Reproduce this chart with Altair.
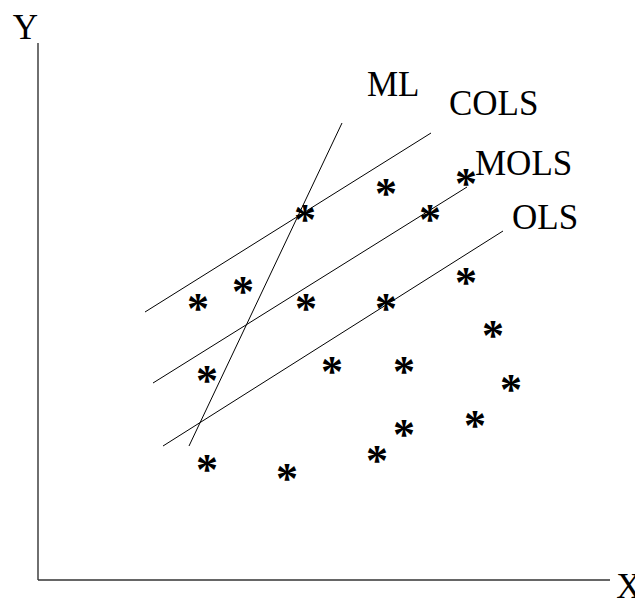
import altair as alt
import pandas as pd

# scatter points (asterisks), in diagram units (origin at the axes corner)
pt_x = [160, 205, 268, 348, 428, 455, 169, 294, 366, 473, 169, 249, 339, 366, 437, 348, 267, 392, 428]
pt_y = [278, 295, 278, 278, 304, 251, 206, 215, 215, 197, 117, 108, 126, 152, 161, 393, 367, 367, 403]

# fitted frontier lines: start / end points
line_names = ["ML", "COLS", "MOLS", "OLS"]
line_x1 = [151, 107, 115, 125]
line_y1 = [134, 268, 197, 134]
line_x2 = [304, 393, 429, 465]
line_y2 = [457, 447, 393, 349]

# label positions for the lines
label_x = [329, 411, 437, 474]
label_y = [484, 465, 405, 351]

# axes extents
axis_x_end = 572
axis_y_end = 537

FONT = "Liberation Serif"
FS = 35

X_DOM = [-30, 597]
Y_DOM = [-18, 572]
xs = alt.Scale(domain=X_DOM, nice=False, zero=False)
ys = alt.Scale(domain=Y_DOM, nice=False, zero=False)

pts = pd.DataFrame({"x": pt_x, "y": pt_y, "t": ["*"] * len(pt_x)})
lines = pd.DataFrame({"name": line_names, "x": line_x1, "y": line_y1, "x2": line_x2, "y2": line_y2})
labels = pd.DataFrame({"name": line_names, "x": label_x, "y": label_y})
axes = pd.DataFrame({"x": [0, 0], "y": [0, 0], "x2": [0, axis_x_end], "y2": [axis_y_end, 0]})
axis_labels = pd.DataFrame({"t": ["Y", "X"], "x": [-12.5, 591], "y": [541, -18]})

X = lambda: alt.X("x:Q", scale=xs, axis=None)
Y = lambda: alt.Y("y:Q", scale=ys, axis=None)

axes_layer = alt.Chart(axes).mark_rule(color="#333", strokeWidth=1.4).encode(
    x=X(), y=Y(), x2="x2:Q", y2="y2:Q"
)
lines_layer = alt.Chart(lines).mark_rule(color="black", strokeWidth=1).encode(
    x=X(), y=Y(), x2="x2:Q", y2="y2:Q"
)
pts_layer = alt.Chart(pts).mark_text(
    font=FONT, fontSize=44, fontWeight="bold", baseline="middle", align="center", color="black", dy=8
).encode(x=X(), y=Y(), text="t:N")
labels_layer = alt.Chart(labels).mark_text(
    font=FONT, fontSize=FS, baseline="alphabetic", align="left", color="black"
).encode(x=X(), y=Y(), text="name:N")
axis_lab_layer = alt.Chart(axis_labels).mark_text(
    font=FONT, fontSize=FS, baseline="alphabetic", align="center", color="black"
).encode(x=X(), y=Y(), text="t:N")

chart = alt.layer(axes_layer, lines_layer, pts_layer, labels_layer, axis_lab_layer).properties(
    width=627, height=590, padding=0, autosize=alt.AutoSizeParams(type="none")
).configure_view(stroke=None)

chart.save("out.html", embed_options={"renderer": "svg", "actions": False})
